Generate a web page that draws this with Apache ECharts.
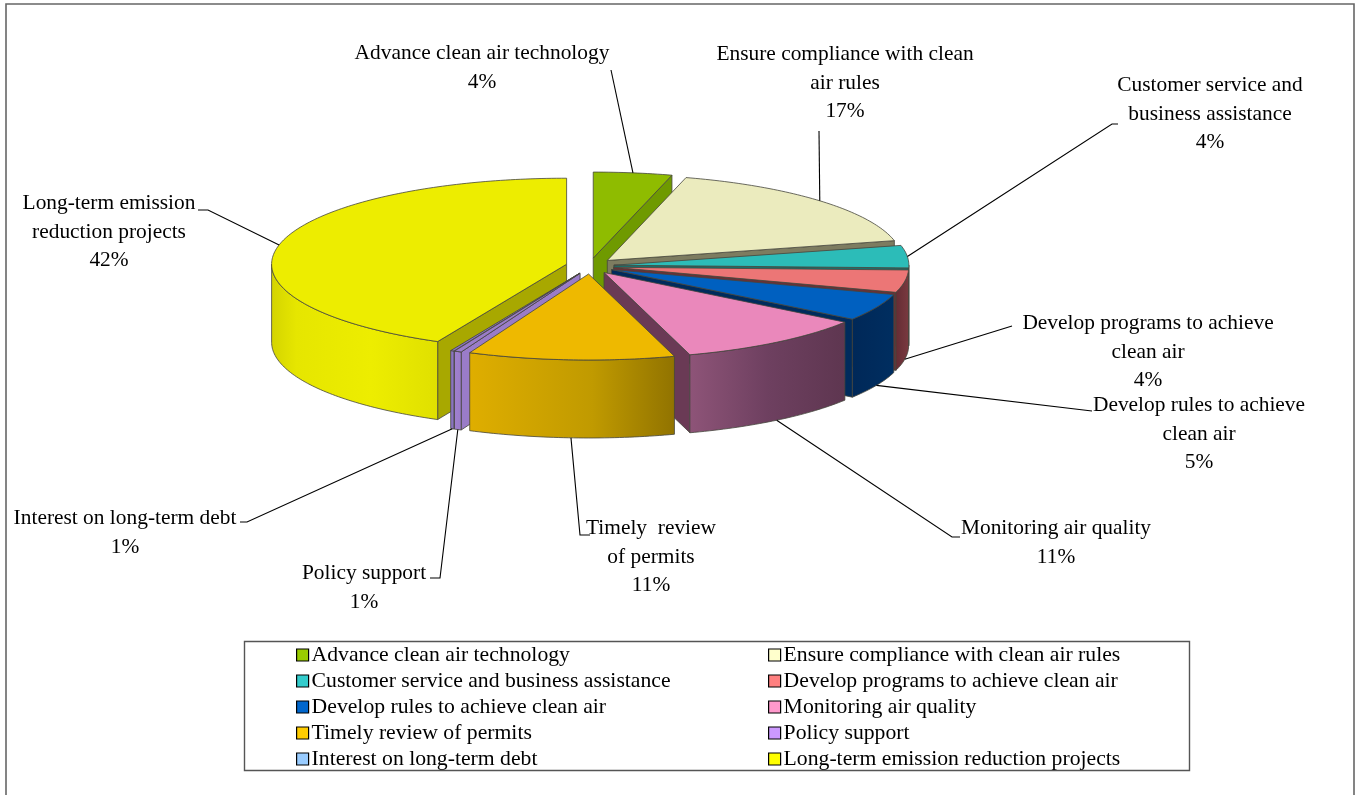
<!DOCTYPE html>
<html>
<head>
<meta charset="utf-8">
<style>html,body{margin:0;padding:0;background:#fff}#c{width:1356px;height:795px}</style>
<script src="https://cdn.jsdelivr.net/npm/echarts@6/dist/echarts.min.js"></script>
</head>
<body>
<div id="c"></div>
<script>
// ---- data ----
var categories = ['Advance clean air technology','Ensure compliance with clean air rules','Customer service and business assistance','Develop programs to achieve clean air','Develop rules to achieve clean air','Monitoring air quality','Timely review of permits','Policy support','Interest on long-term debt','Long-term emission reduction projects'];
var shares = [4.3,17,4.2,4.2,5.1,10.5,11.3,0.4,0.2,42.8];
var percentLabels = ['4%','17%','4%','4%','5%','11%','11%','1%','1%','42%'];
var labelLines = [
 ['Advance clean air technology'],
 ['Ensure compliance with clean','air rules'],
 ['Customer service and','business assistance'],
 ['Develop programs to achieve','clean air'],
 ['Develop rules to achieve','clean air'],
 ['Monitoring air quality'],
 ['Timely  review','of permits'],
 ['Policy support'],
 ['Interest on long-term debt'],
 ['Long-term emission','reduction projects']
];
// ---- styles & layout ----
var legendColors = ['#99cc00','#ffffcc','#33cccc','#ff8080','#0066cc','#ff99cc','#ffcc00','#cc99ff','#99ccff','#ffff00'];
var topColors = ['#8fbc00','#ebebbe','#2cbcb8','#ec7676','#0060c0','#ea88bb','#eeb900','#9a7cc8','#8a74c0','#eded00'];
var cutColors = ['#6f9a00','#7d7c60','#1c6e6a','#6a3036','#002b5c','#6a3a55','#8c7000','#9a7cc8','#7c68b0','#a8a800'];
var wallColors = [
 ['#6f9a00','#6f9a00'],['#7d7c60','#7d7c60'],['#1c6e6a','#1c6e6a'],['#7a3a40','#642c34'],
 ['#002e60','#002858'],['#8e5478','#5e3650'],['#dfae00','#927400'],['#9a7cc8','#a080d0'],['#8a74c0','#8a74c0'],['#d8d800','#e4e400']
];
var paintOrder = [0,1,9,2,3,4,5,8,7,6];
var labelAnchors = [[482,68],[845,83],[1210,114],[1148,352],[1199,434],[1056,543],[651,557],[364,588],[125,533],[109,232]];
var leaderEnds = [[[611,70]],[[819,131]],[[1112,124],[1118,124]],[[1012,326]],[[1092,411]],[[952,537],[960,537]],[[580,535],[590,535]],[[440,578],[430,578]],[[247,522],[240,522]],[[208,210],[198,210]]];
var CX=590, CY=266, RX=295, RY=86, DEPTH=78, EX=24, EY=8;
var FONT='"Liberation Serif","Times New Roman",serif', FS=21.4, LEGEND_FS=21.7;

var total=shares.reduce(function(a,b){return a+b},0), cum=[], acc=0;
shares.forEach(function(v){cum.push([acc/total*360,(acc+v)/total*360]);acc+=v;});

function renderSlice(i){
 return function(params,api){
  var share=api.value(0), a0=cum[i][0], a1=a0+share/total*360, mid=(a0+a1)/2, rad=Math.PI/180;
  var ax=CX+EX*Math.sin(mid*rad), ay=CY-EY*Math.cos(mid*rad);
  function P(t,d){return [ax+RX*Math.sin(t*rad), ay-RY*Math.cos(t*rad)+(d||0)];}
  function arc(s,e,d){var o=[],n=Math.max(2,Math.ceil((e-s)));for(var k=0;k<=n;k++)o.push(P(s+(e-s)*k/n,d));return o;}
  var edge={stroke:'#45453c',lineWidth:0.8};
  var ch=[];
  function poly(pts,fill,st){ch.push({type:'polygon',shape:{points:pts},style:Object.assign({fill:fill},st||edge)});}
  // cut faces
  if(Math.sin(a0*rad)<0) poly([[ax,ay],P(a0),P(a0,DEPTH),[ax,ay+DEPTH]],cutColors[i]);
  if(Math.sin(a1*rad)>0.001) poly([[ax,ay],P(a1),P(a1,DEPTH),[ax,ay+DEPTH]],cutColors[i]);
  // outer wall (front half only)
  var ws=Math.max(a0,90), we=Math.min(a1,270);
  if(we>ws){
   var pts=arc(ws,we,0).concat(arc(ws,we,DEPTH).reverse());
   var stops=wallColors[i];
   var fill={type:'linear',x:1,y:0,x2:0,y2:0,colorStops:[{offset:0,color:stops[0]},{offset:1,color:stops[1]}]};
   if(i===9) fill={type:'linear',x:0,y:0,x2:1,y2:0,colorStops:[{offset:0,color:'#d4d400'},{offset:0.15,color:'#e6e600'},{offset:0.6,color:'#eded00'},{offset:1,color:'#e0e000'}]};
   if(i===6) fill={type:'linear',x:0,y:0,x2:1,y2:0,colorStops:[{offset:0,color:'#dfae00'},{offset:0.6,color:'#c09a00'},{offset:1,color:'#917300'}]};
   if(i===5) fill={type:'linear',x:0,y:0,x2:1,y2:0,colorStops:[{offset:0,color:'#8e5478'},{offset:0.5,color:'#6e4060'},{offset:1,color:'#5e3650'}]};
   poly(pts,fill);
  }
  // top face
  poly([[ax,ay]].concat(arc(a0,a1,0)),topColors[i]);
  // leader from rim at mid angle: bottom rim for front-facing slices
  var front=Math.cos(mid*rad)<-0.05;
  var start=P(mid,front?DEPTH:0);
  ch.push({type:'polyline',z2:50,shape:{points:[start].concat(leaderEnds[i])},style:{stroke:'#000',lineWidth:1.1,fill:null}});
  // label
  var txt=labelLines[i].concat([percentLabels[i]]).join('\n');
  ch.push({type:'text',z2:60,x:labelAnchors[i][0],y:labelAnchors[i][1],style:{text:txt,fill:'#000',font:FS+'px '+FONT,align:'center',verticalAlign:'middle',lineHeight:28.5}});
  return {type:'group',children:ch};
 };
}

var series=categories.map(function(name,i){
 return {type:'custom',name:name,coordinateSystem:'none',silent:true,clip:false,animation:false,
  z:10+paintOrder.indexOf(i),itemStyle:{color:legendColors[i]},data:[[shares[i]]],renderItem:renderSlice(i)};
});
function legendItems(idx){return idx.map(function(i){return {name:categories[i],icon:'rect',itemStyle:{color:legendColors[i],borderColor:'#000',borderWidth:1.2}};});}
function legend(left,idx){return {show:true,orient:'vertical',left:left,top:642,padding:0,itemGap:0,itemWidth:12,itemHeight:12,selectedMode:false,
 textStyle:{fontFamily:FONT,fontSize:LEGEND_FS,color:'#000',lineHeight:26,padding:[0,0,0,-2]},data:legendItems(idx)};}

var chart=echarts.init(document.getElementById('c'),null,{renderer:'canvas'});
chart.setOption({
 animation:false,backgroundColor:'#fff',
 legend:[legend(296,[0,2,4,6,8]),legend(768,[1,3,5,7,9])],
 graphic:[
  {type:'rect',z:-1,shape:{x:6,y:4,width:1348,height:800},style:{fill:'#fff',stroke:'#666',lineWidth:1.6}},
  {type:'rect',z:0,shape:{x:244.5,y:641.5,width:945,height:129},style:{fill:'#fff',stroke:'#555',lineWidth:1.4}}
 ],
 series:series
});
</script>
</body>
</html>
